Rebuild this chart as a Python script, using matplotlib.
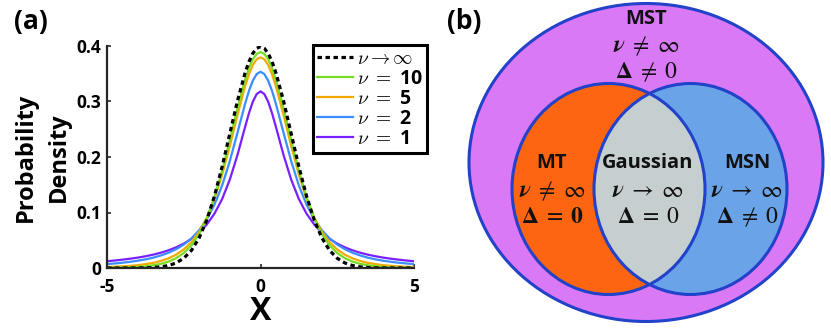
import matplotlib
matplotlib.use("Agg")
import matplotlib.pyplot as plt
from matplotlib.patches import Ellipse

# ---------------- data ----------------
x_vals = [-5.0, -4.75, -4.5, -4.25, -4.0, -3.75, -3.5, -3.25, -3.0, -2.75, -2.5,
          -2.25, -2.0, -1.75, -1.5, -1.25, -1.0, -0.75, -0.5, -0.375, -0.25, -0.125, 0.0,
          0.125, 0.25, 0.375, 0.5, 0.75, 1.0, 1.25, 1.5, 1.75, 2.0, 2.25, 2.5,
          2.75, 3.0, 3.25, 3.5, 3.75, 4.0, 4.25, 4.5, 4.75, 5.0]

pdf_gauss = [0.0000, 0.0000, 0.0000, 0.0000, 0.0001, 0.0004, 0.0009, 0.0020, 0.0044, 0.0091, 0.0175,
             0.0317, 0.0540, 0.0863, 0.1295, 0.1826, 0.2420, 0.3011, 0.3521, 0.3719, 0.3867, 0.3958, 0.3989,
             0.3958, 0.3867, 0.3719, 0.3521, 0.3011, 0.2420, 0.1826, 0.1295, 0.0863, 0.0540, 0.0317, 0.0175,
             0.0091, 0.0044, 0.0020, 0.0009, 0.0004, 0.0001, 0.0000, 0.0000, 0.0000, 0.0000]

pdf_nu10 = [0.0004, 0.0006, 0.0009, 0.0013, 0.0020, 0.0031, 0.0048, 0.0074, 0.0114, 0.0176, 0.0269,
            0.0409, 0.0611, 0.0895, 0.1274, 0.1751, 0.2304, 0.2880, 0.3397, 0.3603, 0.3760, 0.3858, 0.3891,
            0.3858, 0.3760, 0.3603, 0.3397, 0.2880, 0.2304, 0.1751, 0.1274, 0.0895, 0.0611, 0.0409, 0.0269,
            0.0176, 0.0114, 0.0074, 0.0048, 0.0031, 0.0020, 0.0013, 0.0009, 0.0006, 0.0004]

pdf_nu5 = [0.0018, 0.0023, 0.0029, 0.0039, 0.0051, 0.0069, 0.0092, 0.0126, 0.0173, 0.0239, 0.0333,
           0.0466, 0.0651, 0.0905, 0.1245, 0.1679, 0.2197, 0.2757, 0.3279, 0.3493, 0.3657, 0.3761, 0.3796,
           0.3761, 0.3657, 0.3493, 0.3279, 0.2757, 0.2197, 0.1679, 0.1245, 0.0905, 0.0651, 0.0466, 0.0333,
           0.0239, 0.0173, 0.0126, 0.0092, 0.0069, 0.0051, 0.0039, 0.0029, 0.0023, 0.0018]

pdf_nu2 = [0.0071, 0.0082, 0.0095, 0.0111, 0.0131, 0.0155, 0.0186, 0.0225, 0.0274, 0.0338, 0.0422,
           0.0533, 0.0680, 0.0878, 0.1141, 0.1487, 0.1925, 0.2438, 0.2963, 0.3193, 0.3376, 0.3494, 0.3536,
           0.3494, 0.3376, 0.3193, 0.2963, 0.2438, 0.1925, 0.1487, 0.1141, 0.0878, 0.0680, 0.0533, 0.0422,
           0.0338, 0.0274, 0.0225, 0.0186, 0.0155, 0.0131, 0.0111, 0.0095, 0.0082, 0.0071]

pdf_nu1 = [0.0122, 0.0135, 0.0150, 0.0167, 0.0187, 0.0211, 0.0240, 0.0275, 0.0318, 0.0372, 0.0439,
           0.0525, 0.0637, 0.0784, 0.0979, 0.1242, 0.1592, 0.2037, 0.2546, 0.2791, 0.2996, 0.3134, 0.3183,
           0.3134, 0.2996, 0.2791, 0.2546, 0.2037, 0.1592, 0.1242, 0.0979, 0.0784, 0.0637, 0.0525, 0.0439,
           0.0372, 0.0318, 0.0275, 0.0240, 0.0211, 0.0187, 0.0167, 0.0150, 0.0135, 0.0122]

legend_labels = [r'$\nu \rightarrow \infty$', r'$\nu\ =$ 10', r'$\nu\ =$ 5',
                 r'$\nu\ =$ 2', r'$\nu\ =$ 1']
x_ticks = [-5, 0, 5]
x_tick_labels = ['-5', '0', '5']
y_ticks = [0, 0.1, 0.2, 0.3, 0.4]
y_tick_labels = ['0', '0.1', '0.2', '0.3', '0.4']

# ---------------- figure ----------------
W, H = 831, 328
plt.rcParams['font.family'] = ['Open Sans', 'DejaVu Sans']
fig = plt.figure(figsize=(W / 100, H / 100), dpi=100)

ax = fig.add_axes([107 / W, 1 - 268 / H, 307 / W, 222 / H])
c_g, c10, c5, c2, c1 = 'black', '#77DD22', '#F0AA00', '#3A8EFF', '#7A1FFF'
l1, = ax.plot(x_vals, pdf_nu1, color=c1, lw=1.6)
l2, = ax.plot(x_vals, pdf_nu2, color=c2, lw=1.6)
l5, = ax.plot(x_vals, pdf_nu5, color=c5, lw=1.6)
l10, = ax.plot(x_vals, pdf_nu10, color=c10, lw=1.6)
lg, = ax.plot(x_vals, pdf_gauss, color=c_g, lw=2.3, dashes=(1.4, 1.1))

ax.set_xlim(-5, 5)
ax.set_ylim(0, 0.4)
for s in ['top', 'right']:
    ax.spines[s].set_visible(False)
for s in ['left', 'bottom']:
    ax.spines[s].set_linewidth(1.6)
    ax.spines[s].set_color('#262626')
ax.set_xticks(x_ticks)
ax.set_xticklabels(x_tick_labels)
ax.set_yticks(y_ticks)
ax.set_yticklabels(y_tick_labels)
ax.tick_params(axis='both', direction='in', length=3, width=1.2, color='#262626',
               labelsize=12.5)
ax.tick_params(axis='x', pad=7)
ax.tick_params(axis='y', pad=4)
for t in ax.get_xticklabels() + ax.get_yticklabels():
    t.set_fontweight('bold')

fig.text(42 / W, 1 - 157 / H, 'Probability\nDensity', fontsize=17, fontweight='bold',
         rotation=90, ha='center', va='center', multialignment='center', linespacing=1.5)
ax.set_xlabel('X', fontsize=23, fontweight='bold')
ax.xaxis.set_label_coords(0.5, -0.12)

leg = fig.legend([lg, l10, l5, l2, l1], legend_labels, loc='upper left',
                 bbox_to_anchor=(313 / W, 1 - 45 / H), borderaxespad=0,
                 prop={'size': 14, 'weight': 'bold'}, handlelength=1.85,
                 handletextpad=0.2, labelspacing=0.0, borderpad=0.2,
                 fancybox=False, framealpha=1, edgecolor='black')
leg.get_frame().set_linewidth(2.2)
for t in leg.get_texts():
    t.set_math_fontfamily('cm')

fig.text(14 / W, 1 - 22 / H, '(a)', fontsize=19, fontweight='bold', va='center', ha='left')

# ---------------- Venn diagram ----------------
ax2 = fig.add_axes([440 / W, 0, (W - 440) / W, 1])
ax2.set_xlim(440, W)
ax2.set_ylim(H, 0)
ax2.axis('off')

edge = '#2142C9'
elw = 2.2
outer = Ellipse((646, 162.5), 354, 318, facecolor='#D979F6', edgecolor=edge, lw=elw)
ax2.add_patch(outer)
left_e = Ellipse((608.5, 189), 193, 211, facecolor='#FE6510', edgecolor='none')
right_e = Ellipse((690.5, 189), 193, 211, facecolor='#6AA3E8', edgecolor='none')
ax2.add_patch(left_e)
ax2.add_patch(right_e)
lens = Ellipse((690.5, 189), 193, 211, facecolor='#C6CFCF', edgecolor='none')
ax2.add_patch(lens)
clip_e = Ellipse((608.5, 189), 193, 211, facecolor='none', edgecolor='none')
ax2.add_patch(clip_e)
lens.set_clip_path(clip_e)
ax2.add_patch(Ellipse((608.5, 189), 193, 211, facecolor='none', edgecolor=edge, lw=elw))
ax2.add_patch(Ellipse((690.5, 189), 193, 211, facecolor='none', edgecolor=edge, lw=elw))

name_kw = dict(fontsize=14.5, fontweight='bold', ha='center', va='center', color='#111111')
math_kw = dict(fontsize=17, fontweight='normal', ha='center', va='center', color='#111111',
               math_fontfamily='stix')

ax2.text(646, 19, 'MST', **name_kw)
ax2.text(646, 46, r'$\mathbfit{\nu}\;\neq\;\infty$', **math_kw)
ax2.text(646, 72, r'$\mathbf{\Delta}\;\neq\;0$', **math_kw)

ax2.text(552, 163, 'MT', **name_kw)
ax2.text(552, 191, r'$\mathbfit{\nu}\;\neq\;\infty$', **math_kw)
ax2.text(552, 217, r'$\mathbf{\Delta}\;=\;\mathbf{0}$', **math_kw)

ax2.text(648, 163, 'Gaussian', **name_kw)
ax2.text(648, 191, r'$\mathbfit{\nu}\;\rightarrow\;\infty$', **math_kw)
ax2.text(648, 217, r'$\mathbf{\Delta}\;=\;0$', **math_kw)

ax2.text(747, 163, 'MSN', **name_kw)
ax2.text(747, 191, r'$\mathbfit{\nu}\;\rightarrow\;\infty$', **math_kw)
ax2.text(747, 217, r'$\mathbf{\Delta}\;\neq\;0$', **math_kw)

fig.text(447 / W, 1 - 22 / H, '(b)', fontsize=19, fontweight='bold', va='center', ha='left')

fig.savefig('out.png', dpi=100)
